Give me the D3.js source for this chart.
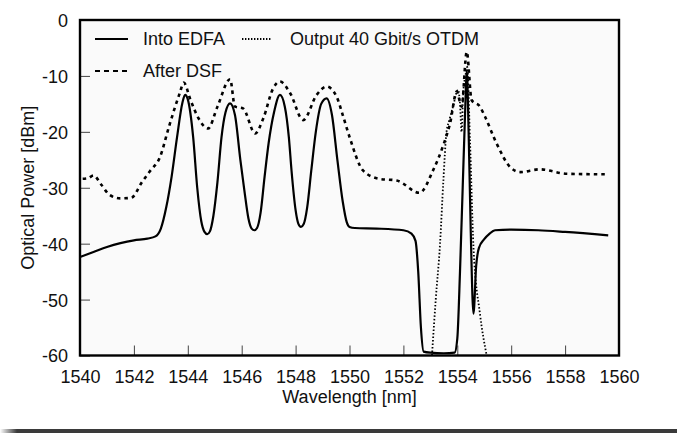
<!DOCTYPE html>
<html lang="en">
<head>
<meta charset="utf-8">
<title>Optical spectrum</title>
<script src="https://cdn.jsdelivr.net/npm/d3@7"></script>
<style>
  body { margin: 0; background: #fff; }
  text { font-family: "Liberation Sans", Arial, Helvetica, sans-serif; fill: #111; }
  .tick line { stroke: #444; stroke-width: 1; }
  .tick text { font-size: 18px; }
</style>
</head>
<body>
<script>
// series: wavelength [nm] / power [dBm]
let edfaWl  = [1540.0, 1540.5, 1541.0, 1541.5, 1542.0, 1542.5, 1542.8, 1543.0, 1543.2, 1543.4, 1543.6, 1543.8, 1543.9, 1544.0, 1544.2, 1544.35, 1544.5, 1544.62, 1544.72, 1544.82, 1544.95, 1545.1, 1545.25, 1545.4, 1545.57, 1545.75, 1545.95, 1546.1, 1546.25, 1546.37, 1546.47, 1546.57, 1546.7, 1546.85, 1547.0, 1547.2, 1547.42, 1547.6, 1547.75, 1547.85, 1548.0, 1548.1, 1548.2, 1548.3, 1548.43, 1548.58, 1548.75, 1548.95, 1549.15, 1549.35, 1549.55, 1549.75, 1549.9, 1550.0, 1550.2, 1551.0, 1552.0, 1552.3, 1552.45, 1552.55, 1552.65, 1552.75, 1553.0, 1553.5, 1553.9, 1554.0, 1554.1, 1554.2, 1554.3, 1554.35, 1554.42, 1554.5, 1554.6, 1554.7, 1554.8, 1555.0, 1555.2, 1555.4, 1556.0, 1557.0, 1558.0, 1559.6];
let edfaDbm = [-42.4, -41.5, -40.6, -39.9, -39.4, -39.1, -38.7, -37.3, -33.5, -28.0, -21.0, -14.8, -13.4, -14.2, -21.0, -30.0, -36.0, -37.9, -38.3, -37.8, -35.0, -29.0, -21.0, -16.5, -14.9, -17.0, -25.0, -30.5, -35.5, -37.3, -37.6, -37.2, -34.5, -28.0, -22.0, -16.5, -13.4, -15.5, -21.0, -27.0, -34.0, -36.4, -37.0, -36.5, -33.5, -27.0, -20.0, -15.0, -14.0, -17.0, -25.0, -32.5, -36.2, -37.0, -37.2, -37.3, -37.6, -38.2, -39.5, -45.0, -55.0, -59.3, -59.5, -59.6, -59.5, -57.0, -45.0, -30.0, -15.0, -9.0, -20.0, -38.0, -52.5, -44.0, -40.8, -39.2, -38.2, -37.6, -37.5, -37.6, -37.9, -38.5];

let otdmWl  = [1553.06, 1553.2, 1553.36, 1553.48, 1553.6, 1553.7, 1553.84, 1554.03, 1554.1, 1554.16, 1554.22, 1554.3, 1554.37, 1554.47, 1554.6, 1554.84, 1555.09];
let otdmDbm = [-60.0, -50.0, -40.0, -29.0, -20.0, -18.0, -15.5, -12.5, -15.0, -20.0, -13.0, -10.0, -8.4, -21.5, -40.6, -52.5, -60.0];

let dsfWl  = [1540.1, 1540.3, 1540.5, 1540.8, 1541.1, 1541.5, 1541.9, 1542.3, 1542.6, 1542.97, 1543.3, 1543.7, 1543.85, 1544.1, 1544.4, 1544.75, 1545.1, 1545.57, 1545.75, 1546.05, 1546.5, 1546.8, 1547.17, 1547.42, 1547.8, 1548.28, 1548.78, 1549.15, 1549.52, 1549.75, 1550.0, 1550.5, 1551.1, 1551.75, 1552.6, 1553.1, 1553.48, 1553.73, 1553.98, 1554.16, 1554.35, 1554.53, 1554.84, 1555.03, 1555.46, 1555.96, 1556.33, 1557.07, 1558.06, 1559.6];
let dsfDbm = [-28.4, -28.3, -27.8, -29.5, -31.3, -31.9, -31.8, -29.0, -27.0, -24.5, -19.1, -13.1, -11.2, -14.3, -17.6, -19.4, -15.5, -10.6, -15.5, -15.8, -20.3, -17.6, -12.2, -11.0, -13.1, -17.9, -13.4, -11.9, -13.7, -17.0, -20.9, -26.9, -28.4, -28.7, -30.9, -26.9, -22.4, -18.5, -12.8, -15.5, -5.7, -14.3, -15.5, -17.3, -22.1, -26.3, -27.2, -26.7, -27.5, -27.6];

let xTicks = [1540, 1542, 1544, 1546, 1548, 1550, 1552, 1554, 1556, 1558, 1560];
let yTicks = [0, -10, -20, -30, -40, -50, -60];
let legendNames = ["Into EDFA", "Output 40 Gbit/s OTDM", "After DSF"];

let w = 677, h = 433;
let pLeft = 80, pRight = 619, pTop = 20, pBottom = 355.5;

let svg = d3.select("body").append("svg")
  .attr("width", w)
  .attr("height", h);

let x = d3.scaleLinear().domain([1540, 1560]).range([pLeft, pRight]);
let y = d3.scaleLinear().domain([-60, 0]).range([pBottom, pTop]);

// plot background
svg.append("rect")
  .attr("x", pLeft).attr("y", pTop)
  .attr("width", pRight - pLeft).attr("height", pBottom - pTop)
  .attr("fill", "#fafafa");

// axes, ticks pointing inward, plain hyphen for negatives
let xAxis = svg.append("g")
  .attr("transform", "translate(0," + pBottom + ")")
  .call(d3.axisBottom(x).tickValues(xTicks).tickFormat(d => String(d)).tickSizeInner(-10).tickSizeOuter(0).tickPadding(15));
xAxis.select(".domain").remove();

let yAxis = svg.append("g")
  .attr("transform", "translate(" + pLeft + ",0)")
  .call(d3.axisLeft(y).tickValues(yTicks).tickFormat(d => String(d)).tickSizeInner(-10).tickSizeOuter(0).tickPadding(12));
yAxis.select(".domain").remove();
yAxis.selectAll(".tick text").attr("dy", "0.36em");

// curves
let line = d3.line()
  .x(d => x(d[0]))
  .y(d => y(d[1]))
  .curve(d3.curveMonotoneX);

let pairs = (a, b) => a.map((v, i) => [v, b[i]]);

svg.append("path")
  .datum(pairs(dsfWl, dsfDbm))
  .attr("fill", "none")
  .attr("stroke", "#000")
  .attr("stroke-width", 2.6)
  .attr("stroke-dasharray", "3.5,4")
  .attr("d", line);

svg.append("path")
  .datum(pairs(edfaWl, edfaDbm))
  .attr("fill", "none")
  .attr("stroke", "#000")
  .attr("stroke-width", 2.2)
  .attr("stroke-linejoin", "round")
  .attr("d", line);

svg.append("path")
  .datum(pairs(otdmWl, otdmDbm))
  .attr("fill", "none")
  .attr("stroke", "#000")
  .attr("stroke-width", 1.8)
  .attr("stroke-dasharray", "1.5,2")
  .attr("d", line);

// frame
svg.append("rect")
  .attr("x", pLeft).attr("y", pTop)
  .attr("width", pRight - pLeft).attr("height", pBottom - pTop)
  .attr("fill", "none")
  .attr("stroke", "#000")
  .attr("stroke-width", 2.4);

// legend
let legendRows = [
  {x1: 95, x2: 128, y: 39, tx: 143, dash: null, sw: 2.2, name: legendNames[0]},
  {x1: 242, x2: 271, y: 39, tx: 290, dash: "1.4,1.6", sw: 1.8, name: legendNames[1]},
  {x1: 95, x2: 128, y: 71, tx: 143, dash: "5,4", sw: 2.2, name: legendNames[2]}
];
legendRows.forEach(r => {
  svg.append("line")
    .attr("x1", r.x1).attr("x2", r.x2)
    .attr("y1", r.y).attr("y2", r.y)
    .attr("stroke", "#000")
    .attr("stroke-width", r.sw)
    .attr("stroke-dasharray", r.dash);
  svg.append("text")
    .attr("x", r.tx)
    .attr("y", r.y + 6)
    .style("font-size", "18px")
    .text(r.name);
});

// axis titles
svg.append("text")
  .attr("x", (pLeft + pRight) / 2)
  .attr("y", 403)
  .attr("text-anchor", "middle")
  .style("font-size", "18px")
  .text("Wavelength [nm]");

svg.append("text")
  .attr("transform", "translate(34," + ((pTop + pBottom) / 2) + ") rotate(-90)")
  .attr("text-anchor", "middle")
  .style("font-size", "18px")
  .text("Optical Power [dBm]");

// dark strip at the bottom
let grad = svg.append("defs").append("linearGradient")
  .attr("id", "fade")
  .attr("x1", "0").attr("x2", "1");
grad.append("stop").attr("offset", "0").attr("stop-color", "#fff");
grad.append("stop").attr("offset", "1").attr("stop-color", "#3a3a3a");

svg.append("rect")
  .attr("x", 17).attr("y", 429)
  .attr("width", w - 17).attr("height", 4)
  .attr("fill", "#3a3a3a");
svg.append("rect")
  .attr("x", 0).attr("y", 429)
  .attr("width", 17).attr("height", 4)
  .attr("fill", "url(#fade)");
</script>
</body>
</html>
